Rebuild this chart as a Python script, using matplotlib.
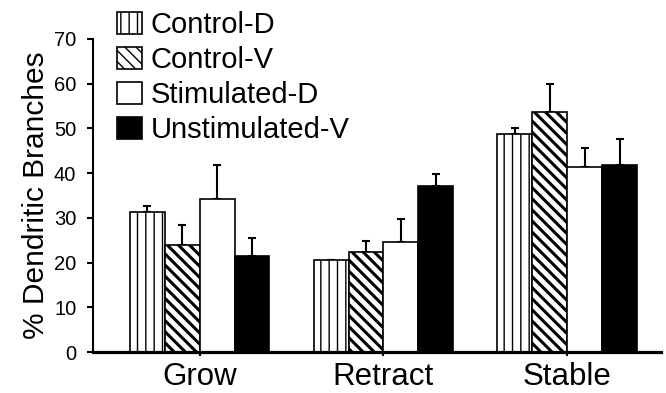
#!/usr/bin/env python
# -*- coding: utf-8 -*-
import matplotlib
matplotlib.use('Agg')
import matplotlib.pyplot as plt
import numpy as np

plt.rcParams['font.family'] = ['Liberation Sans', 'DejaVu Sans']

categories = ['Grow', 'Retract', 'Stable']
series = ['Control-D', 'Control-V', 'Stimulated-D', 'Unstimulated-V']
# bar heights (%), per series, for Grow / Retract / Stable
values = {
    'Control-D': [31.2, 20.5, 48.7],
    'Control-V': [23.9, 22.4, 53.6],
    'Stimulated-D': [34.2, 24.7, 41.4],
    'Unstimulated-V': [21.5, 37.1, 41.9],
}
# upper error (SEM)
errors = {
    'Control-D': [1.5, 0.0, 1.4],
    'Control-V': [4.5, 2.5, 6.3],
    'Stimulated-D': [7.6, 5.1, 4.3],
    'Unstimulated-V': [3.9, 2.8, 5.7],
}
y_ticks = [0, 10, 20, 30, 40, 50, 60, 70]

styles = {
    'Control-D': dict(facecolor='white', hatch='||', hlw=1.0),
    'Control-V': dict(facecolor='white', hatch='\\\\\\', hlw=2.2),
    'Stimulated-D': dict(facecolor='white', hatch=None, hlw=1.0),
    'Unstimulated-V': dict(facecolor='black', hatch=None, hlw=1.0),
}

fig = plt.figure(figsize=(6.66, 3.93), dpi=100)
ax = fig.add_axes([93 / 666, 1 - 352 / 393, (661 - 93) / 666, (352 - 39) / 393])

x = np.arange(len(categories))
width = 0.19
handles = []
for i, name in enumerate(series):
    st = styles[name]
    plt.rcParams['hatch.linewidth'] = st['hlw']
    pos = x + (i - 1.5) * width
    bars = ax.bar(pos, values[name], width, facecolor=st['facecolor'], edgecolor='black',
                  linewidth=1.2, hatch=st['hatch'], label=name, zorder=2)
    for b in bars:
        if hasattr(b, 'set_hatch_linewidth'):
            b.set_hatch_linewidth(st['hlw'])
    ax.errorbar(pos, values[name], yerr=[np.zeros(3), errors[name]], fmt='none',
                ecolor='black', elinewidth=1.5, capsize=3.2, capthick=1.5, zorder=1)
    handles.append(bars)

ax.set_xlim(-0.58, 2.51)
ax.set_ylim(0, 70)
ax.set_yticks(y_ticks)
ax.set_xticks(x)
ax.set_xticklabels(categories, fontsize=22.5)
ax.tick_params(axis='y', labelsize=14.5, length=4, width=1.5, pad=8)
ax.tick_params(axis='x', length=3, width=1.5, pad=4)
ax.set_ylabel('% Dendritic Branches', fontsize=21.5, labelpad=3)

ax.spines['top'].set_visible(False)
ax.spines['right'].set_visible(False)
ax.spines['left'].set_linewidth(1.5)
ax.spines['bottom'].set_linewidth(2.3)

leg = fig.legend(handles=handles, labels=series, loc='upper left',
                 bbox_to_anchor=(117 / 666, 1 - 11 / 393), frameon=False, fontsize=21,
                 handlelength=0.86, handleheight=0.76, handletextpad=0.3,
                 labelspacing=0.24, borderpad=0, borderaxespad=0)

fig.savefig('out.png', dpi=100)
